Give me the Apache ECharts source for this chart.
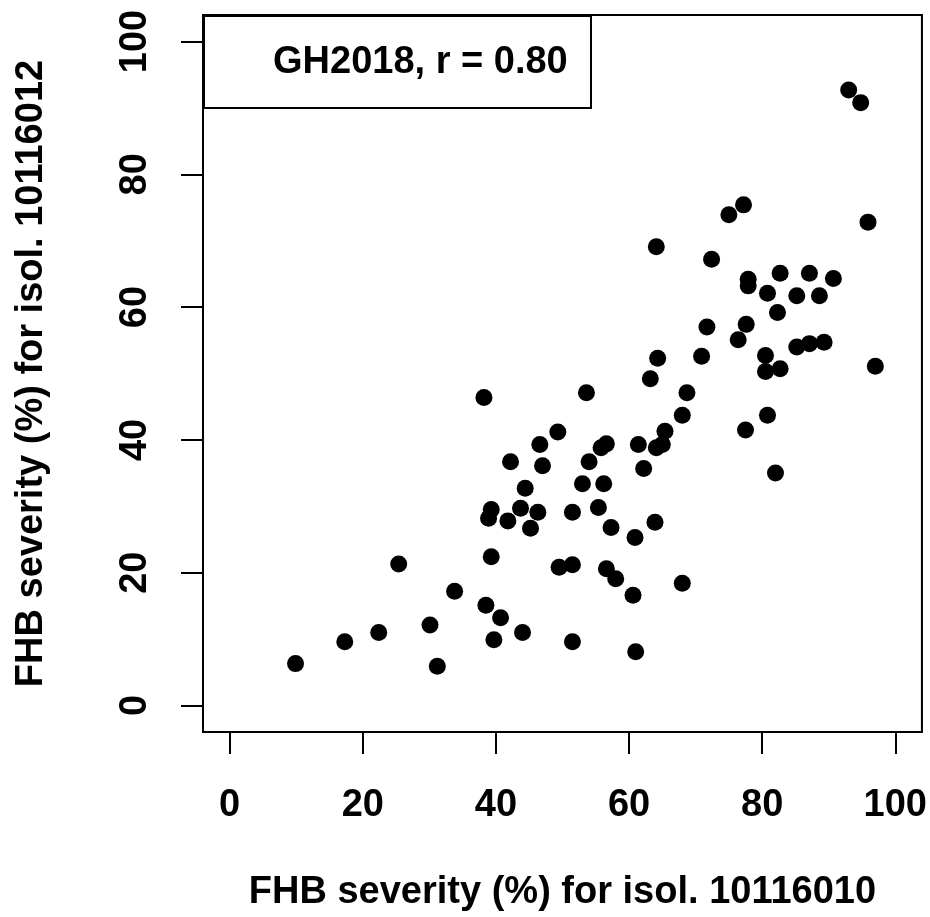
<!DOCTYPE html>
<html>
<head>
<meta charset="utf-8">
<title>FHB severity</title>
<script src="https://cdn.jsdelivr.net/npm/echarts@6/dist/echarts.min.js"></script>
<style>
* { margin: 0; padding: 0; }
body { background: #fff; }
#chart { width: 930px; height: 917px; }
</style>
</head>
<body>
<div id="chart"></div>
<script>
// severity (%) for isol. 10116010
var sevIsol10 = [
  9.9, 17.3, 22.4, 25.4, 30.1, 31.2, 33.8, 38.2, 38.5, 39.3,
  38.9, 39.3, 39.7, 40.7, 41.8, 42.2, 43.7, 44.0, 44.4, 45.2,
  46.3, 46.6, 47.0, 49.3, 49.5, 51.5, 51.5, 51.5, 53.0, 53.6,
  54.0, 55.4, 55.8, 56.6, 56.2, 56.6, 57.3, 58.0, 60.6, 60.9,
  61.0, 61.4, 62.2, 63.2, 63.9, 64.1, 65.0, 65.4, 64.3, 64.1,
  68.0, 68.0, 68.7, 70.9, 71.7, 72.4, 75.0, 77.2, 76.4, 77.6,
  77.5, 77.9, 77.9, 80.5, 80.5, 80.8, 80.8, 82.0, 82.3, 82.7,
  82.7, 85.2, 85.2, 87.1, 87.1, 88.6, 89.3, 90.7, 93.0, 94.8,
  95.9, 97.0
];
// severity (%) for isol. 10116012
var sevIsol12 = [
  6.3, 9.6, 11.0, 21.3, 12.1, 5.9, 17.2, 46.4, 15.1, 29.5,
  28.2, 22.4, 9.9, 13.2, 27.8, 36.7, 29.7, 11.0, 32.7, 26.7,
  29.1, 39.3, 36.1, 41.2, 20.8, 21.2, 29.1, 9.6, 33.4, 47.1,
  36.7, 29.8, 38.8, 39.4, 33.4, 20.6, 26.8, 19.1, 16.6, 25.3,
  8.1, 39.3, 35.7, 49.2, 27.6, 38.8, 39.3, 41.3, 52.3, 69.1,
  18.4, 43.7, 47.1, 52.6, 57.0, 67.2, 73.9, 75.4, 55.1, 57.4,
  41.5, 64.2, 63.2, 52.7, 50.3, 62.1, 43.7, 35.0, 59.2, 65.1,
  50.7, 61.7, 54.0, 65.1, 54.5, 61.7, 54.7, 64.3, 92.7, 90.8,
  72.8, 51.1
];
var tickValues = [0, 20, 40, 60, 80, 100];
var legendLabel = 'GH2018, r = 0.80';
var xTitle = 'FHB severity (%) for isol. 10116010';
var yTitle = 'FHB severity (%) for isol. 10116012';

var points = [];
for (var i = 0; i < sevIsol10.length; i++) {
    points.push([sevIsol10[i], sevIsol12[i]]);
}

var font = 'Arial, "Liberation Sans", sans-serif';
var chart = echarts.init(document.getElementById('chart'), null, {renderer: 'canvas'});
var option = {
    animation: false,
    backgroundColor: '#fff',
    grid: {
        left: 203, top: 15, width: 720, height: 720,
        show: true, borderColor: '#000', borderWidth: 2, backgroundColor: 'transparent'
    },
    xAxis: {
        type: 'value', min: -4, max: 104,
        name: xTitle, nameLocation: 'middle', nameGap: 142,
        nameTextStyle: {fontFamily: font, fontWeight: 'bold', fontSize: 38, color: '#000'},
        axisLine: {show: false, onZero: false},
        axisTick: {show: true, customValues: tickValues, length: 22, lineStyle: {color: '#000', width: 2}},
        axisLabel: {customValues: tickValues, margin: 55, fontFamily: font, fontWeight: 'bold', fontSize: 38, color: '#000'},
        splitLine: {show: false}
    },
    yAxis: {
        type: 'value', min: -4, max: 104,
        name: yTitle, nameLocation: 'middle', nameGap: 152,
        nameTextStyle: {fontFamily: font, fontWeight: 'bold', fontSize: 38, color: '#000'},
        axisLine: {show: false, onZero: false},
        axisTick: {show: true, customValues: tickValues, length: 22, lineStyle: {color: '#000', width: 2}},
        axisLabel: {customValues: tickValues, rotate: 90, margin: 48, fontFamily: font, fontWeight: 'bold', fontSize: 38, color: '#000'},
        splitLine: {show: false}
    },
    graphic: [{
        type: 'group', left: 203, top: 15,
        children: [{
            type: 'rect', shape: {x: 0, y: 0, width: 387, height: 92},
            style: {fill: '#fff', stroke: '#000', lineWidth: 2}
        }, {
            type: 'text', x: 69, y: 47,
            style: {text: legendLabel, fontFamily: font, fontWeight: 'bold', fontSize: 38, fill: '#000', verticalAlign: 'middle'}
        }]
    }],
    series: [{
        type: 'scatter',
        data: points,
        symbol: 'circle',
        symbolSize: 17,
        itemStyle: {color: '#000', opacity: 1}
    }]
};
chart.setOption(option);
</script>
</body>
</html>
